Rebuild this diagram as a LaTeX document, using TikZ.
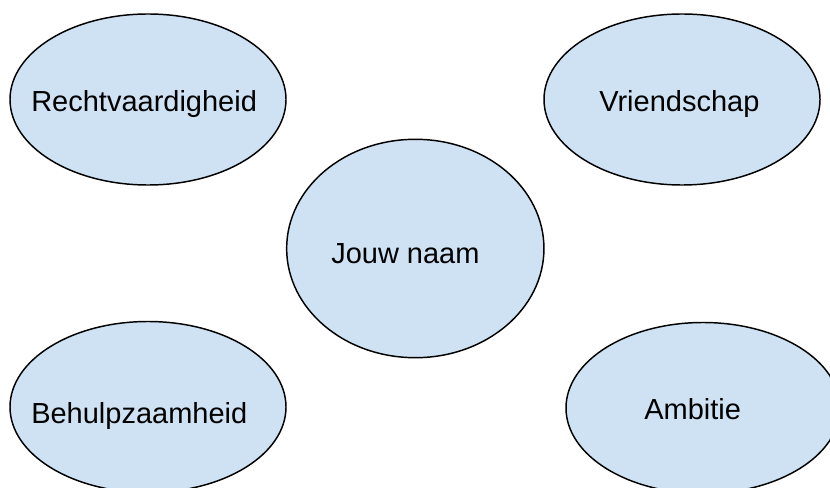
\documentclass[tikz,border=0pt]{standalone}
\usepackage{fontspec}
\setmainfont{Liberation Sans}
\usetikzlibrary{shapes.geometric}
\definecolor{bubblefill}{HTML}{CFE2F3}
\tikzset{
  bubble/.style={ellipse, draw=black, line width=1.1pt, fill=bubblefill, inner sep=0pt},
  outer/.style={bubble, minimum width=276*0.75pt, minimum height=171*0.75pt},
  txt/.style={anchor=base west, inner sep=0pt, font=\fontsize{21.75pt}{26pt}\selectfont}
}
\begin{document}
\begin{tikzpicture}[x=0.75pt, y=-0.75pt]
\useasboundingbox (0,0) rectangle (830,488);
\clip (0,0) rectangle (830,488);
\fill[white] (0,0) rectangle (830,488);
\node[outer] (e1) at (148,99.5) {};
\node[outer] (e2) at (682,99.5) {};
\node[bubble, minimum width=257.3*0.75pt, minimum height=218.4*0.75pt] (ec) at (415.3,248.5) {};
\node[outer] (e3) at (148,407) {};
\node[outer, minimum width=274*0.75pt] (e4) at (703,408) {};
\node[txt] (t1) at (31,111.7) {Rechtvaardigheid};
\node[txt] (t2) at (599,111.7) {Vriendschap};
\node[txt] (tc) at (331,263.3) {Jouw naam};
\node[txt] (t3) at (31,423.3) {Behulpzaamheid};
\node[txt] (t4) at (644,419.3) {Ambitie};
\end{tikzpicture}
\end{document}
